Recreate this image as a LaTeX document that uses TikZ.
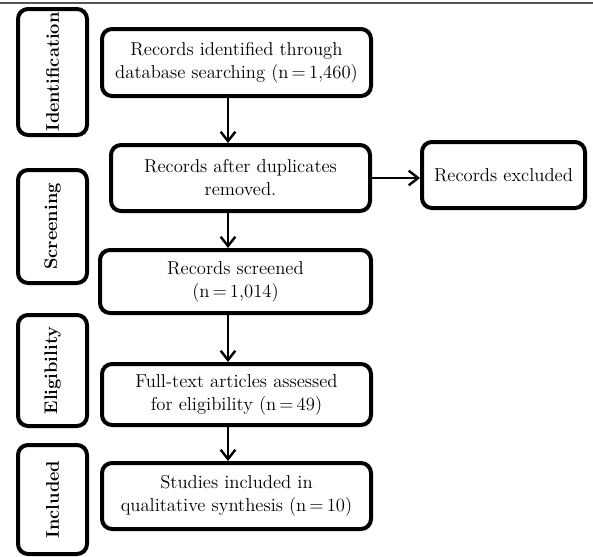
\documentclass[tikz,border=0pt]{standalone}
\usepackage{xcolor}
\usepackage{tikz}
\usetikzlibrary{arrows.meta}
\definecolor{ruleGray}{HTML}{555555}

\begin{document}
\begin{tikzpicture}[x=0.75pt, y=-0.75pt,
        box/.style={draw, line width=3pt, rounded corners=7.5pt, align=center, inner sep=0pt,
                    font=\fontsize{14}{17.25}\selectfont},
        stage/.style={draw, line width=3pt, rounded corners=7.5pt, rotate=90, inner sep=0pt,
                      minimum height=51.75pt, font=\fontsize{13.7}{16}\selectfont\bfseries},
        flow/.style={line width=1.8pt, -{Straight Barb[length=7pt, width=11pt, line width=1.8pt]}}]
                \useasboundingbox (0, 0) rectangle (593, 557);
                \draw[ruleGray, line width=0.8pt] (0, 3) -- (593, 3);
                % stages on the left
                \node[stage, minimum width=94.5pt] (ident) at (52.5, 72) {Identification};
                \node[stage, minimum width=84.75pt] (screen) at (52.5, 226.5) {Screening};
                \node[stage, minimum width=83.25pt] (elig) at (52.5, 370.5) {Eligibility};
                \node[stage, minimum width=81.75pt] (incl) at (52.5, 499.5) {Included};
                % flow boxes
                \node[box, minimum width=201.75pt, minimum height=50.25pt] (found) at (236.5, 62.5)
                    {Records identified through\\database searching (n\,=\,1,460)};
                \node[box, minimum width=194.25pt, minimum height=49.5pt] (dedup) at (240.5, 178)
                    {Records after duplicates\\removed.};
                \node[box, minimum width=203.25pt, minimum height=47.25pt] (screened) at (235.5, 281.5)
                    {Records screened\\(n\,=\,1,014)};
                \node[box, minimum width=201.75pt, minimum height=45.75pt] (fulltext) at (236.5, 394.5)
                    {Full-text articles assessed\\for eligibility (n\,=\,49)};
                \node[box, minimum width=201.75pt, minimum height=49.5pt] (studies) at (236.5, 496)
                    {Studies included in\\qualitative synthesis (n\,=\,10)};
                \node[box, minimum width=122.25pt, minimum height=49.5pt] (excluded) at (503.5, 175)
                    {Records excluded};
                % arrows
                \coordinate (spine) at (228, 0);
                \draw[flow] (found.south -| spine) -- (dedup.north -| spine);
                \draw[flow] (dedup.south -| spine) -- (screened.north -| spine);
                \draw[flow] (screened.south -| spine) -- (fulltext.north -| spine);
                \draw[flow] (fulltext.south -| spine) -- (studies.north -| spine);
                \draw[flow] (dedup.east) -- (dedup.east -| excluded.west);
\end{tikzpicture}
\end{document}
